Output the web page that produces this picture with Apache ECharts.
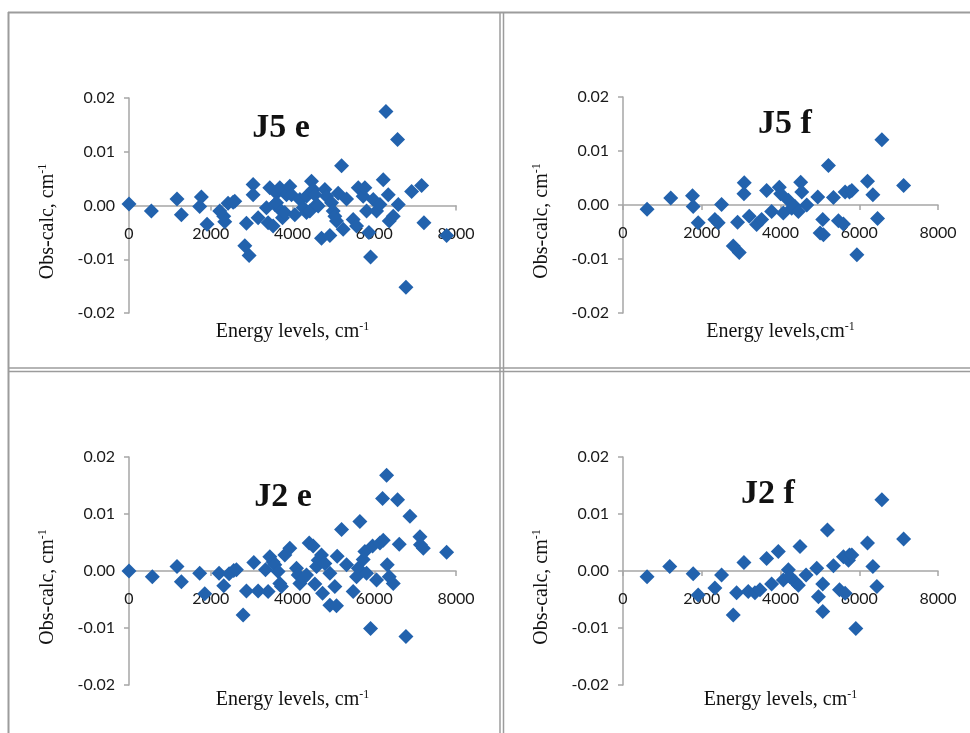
<!DOCTYPE html>
<html>
<head>
<meta charset="utf-8">
<script src="https://cdn.jsdelivr.net/npm/echarts@6/dist/echarts.min.js"></script>
<style>
  html, body { margin: 0; padding: 0; background: #fff; }
  #chart { width: 970px; height: 733px; }
</style>
</head>
<body>
<div id="chart"></div>
<script>
// panel titles
const titles = ['J5 e', 'J5 f', 'J2 e', 'J2 f']
const xNames = ['Energy levels, ', 'Energy levels,', 'Energy levels, ', 'Energy levels, ']

// J5 e
const energyJ5e = [0, 547, 1175, 1282, 1730, 1771, 1910, 2220, 2318, 2343, 2424, 2547, 2588, 2833, 2873, 2939, 3037, 3037, 3159, 3363,
  3404, 3445, 3526, 3567, 3608, 3608, 3690, 3730, 3755, 3812, 3853, 3935, 3975, 4057, 4180, 4261, 4343, 4343, 4424, 4465,
  4506, 4547, 4588, 4628, 4710, 4792, 4833, 4914, 4955, 4996, 5036, 5077, 5118, 5200, 5240, 5322, 5485, 5567, 5608, 5730,
  5771, 5812, 5870, 5910, 5975, 6057, 6139, 6220, 6286, 6343, 6367, 6465, 6571, 6588, 6775, 6914, 7159, 7216, 7771]
const residJ5e = [0.0003, -0.001, 0.0012, -0.0017, -0.0002, 0.0016, -0.0035, -0.001, -0.002, -0.003, 0.0004, 0.0006, 0.0008, -0.0075, -0.0033, -0.0093, 0.0039, 0.002, -0.0023, -0.0004,
  -0.0032, 0.0033, -0.0038, 0.0002, 0.0023, 0.0005, 0.0033, -0.001, -0.0023, -0.0013, 0.002, 0.0036, 0.002, -0.0017, 0.0011, -0.0004, 0.0017, -0.0013, -0.001, 0.0045,
  0.003, 0.002, 0.0002, -0.0001, -0.0061, 0.003, 0.0017, -0.0056, 0.0005, -0.001, -0.002, -0.0029, 0.0023, 0.0074, -0.0044, 0.0012, -0.0026, -0.0038, 0.0033, 0.0017,
  0.0033, -0.001, -0.005, -0.0096, 0.0011, -0.001, 0.0002, 0.0048, 0.0175, 0.002, -0.0029, -0.002, 0.0123, 0.0002, -0.0152, 0.0026, 0.0037, -0.0032, -0.0056]

// J5 f
const energyJ5f = [611, 1213, 1765, 1782, 1909, 2333, 2418, 2503, 2800, 2910, 2952, 3071, 3080, 3207, 3394, 3521, 3648, 3775, 3970, 4004,
  4072, 4200, 4284, 4369, 4454, 4513, 4539, 4666, 4946, 5006, 5073, 5090, 5218, 5345, 5472, 5599, 5642, 5752, 5811, 5939,
  6210, 6346, 6465, 6575, 7127]
const residJ5f = [-0.0008, 0.0013, 0.0017, -0.0003, -0.0033, -0.0027, -0.0033, 0.0001, -0.0076, -0.0032, -0.0088, 0.0021, 0.0041, -0.0021, -0.0036, -0.0027, 0.0027, -0.0012, 0.0033, 0.0021,
  -0.0015, 0.0009, -0.0006, -0.0003, -0.0012, 0.0042, 0.0024, 0.0, 0.0015, -0.0052, -0.0027, -0.0055, 0.0073, 0.0014, -0.0029, -0.0035, 0.0024, 0.0024, 0.0027, -0.0092,
  0.0044, 0.0019, -0.0025, 0.0121, 0.0036]

// J2 e
const energyJ2e = [0, 571, 1175, 1282, 1730, 1853, 2204, 2318, 2449, 2563, 2628, 2792, 2873, 3053, 3159, 3339, 3404, 3445, 3526, 3567,
  3649, 3690, 3730, 3812, 3935, 4098, 4139, 4180, 4261, 4343, 4408, 4506, 4547, 4588, 4628, 4710, 4735, 4792, 4914, 4914,
  5036, 5077, 5094, 5200, 5322, 5485, 5567, 5608, 5649, 5730, 5771, 5812, 5910, 5959, 6057, 6139, 6204, 6220, 6302, 6318,
  6367, 6465, 6571, 6612, 6775, 6873, 7118, 7130, 7200, 7771]
const residJ2e = [0.0, -0.001, 0.0008, -0.0019, -0.0004, -0.004, -0.0004, -0.0026, -0.0005, 0.0001, 0.0002, -0.0077, -0.0035, 0.0015, -0.0035, 0.0002, -0.0036, 0.0025, 0.0016, 0.0011,
  -0.0001, -0.0022, -0.0027, 0.0028, 0.004, 0.0005, -0.0007, -0.0022, -0.0013, -0.0007, 0.0049, 0.0044, -0.0023, 0.0008, 0.0019, 0.0028, -0.0039, 0.0013, -0.0004, -0.006,
  -0.0027, -0.0061, 0.0026, 0.0073, 0.0011, -0.0036, -0.001, 0.0005, 0.0087, 0.002, 0.0034, -0.0004, -0.0101, 0.0044, -0.0016, 0.0049, 0.0127, 0.0054, 0.0168, 0.0011,
  -0.001, -0.0022, 0.0125, 0.0047, -0.0115, 0.0096, 0.006, 0.0046, 0.004, 0.0033]

// J2 f
const energyJ2f = [611, 1188, 1782, 1909, 2333, 2503, 2800, 2885, 3071, 3181, 3351, 3478, 3648, 3775, 3945, 4072, 4200, 4242, 4369, 4454,
  4496, 4649, 4921, 4963, 5073, 5073, 5192, 5345, 5498, 5599, 5642, 5727, 5752, 5811, 5913, 6210, 6346, 6448, 6575, 7127]
const residJ2f = [-0.001, 0.0008, -0.0005, -0.0042, -0.003, -0.0007, -0.0077, -0.0038, 0.0015, -0.0036, -0.0038, -0.0033, 0.0022, -0.0023, 0.0034, -0.0016, 0.0002, -0.001, -0.0019, -0.0025,
  0.0043, -0.0007, 0.0005, -0.0045, -0.0023, -0.0071, 0.0072, 0.0009, -0.0033, 0.0025, -0.0039, 0.0019, 0.0028, 0.0028, -0.0101, 0.0049, 0.0008, -0.0027, 0.0125, 0.0056]

const panelData = [
  [energyJ5e, residJ5e],
  [energyJ5f, residJ5f],
  [energyJ2e, residJ2e],
  [energyJ2f, residJ2f]
]

// plot area of each panel: left, top, width, height
const grids = [
  { left: 129, top: 98, width: 327, height: 215 },
  { left: 623, top: 97, width: 315, height: 216 },
  { left: 129, top: 457, width: 327, height: 228 },
  { left: 623, top: 457, width: 315, height: 228 }
]
const titlePos = [[281, 128], [785, 124], [283, 497], [768, 494]]

const axisGray = '#a6a6a6'
const dotBlue = '#2262ad'
const serif = '"Liberation Serif", "DejaVu Serif", serif'
const sans = 'Lato, "Open Sans", sans-serif'

const chart = echarts.init(document.getElementById('chart'))

const supRich = {
  base: { fontFamily: serif, fontSize: 20, color: '#111', lineHeight: 22 },
  sup: { fontFamily: serif, fontSize: 12, color: '#111', verticalAlign: 'top', lineHeight: 22 }
}

// x labels sit under the zero line, not under the plot bottom
const xAxes = grids.map((g, i) => ({
  gridIndex: i,
  type: 'value',
  min: 0,
  max: 8000,
  interval: 2000,
  name: '{base|' + xNames[i] + 'cm}{sup|-1}',
  nameLocation: 'middle',
  nameGap: i < 2 ? 8 : 4,
  nameTextStyle: { rich: supRich },
  axisLine: { onZero: true, lineStyle: { color: axisGray, width: 1.5 } },
  axisTick: { show: true, length: 5, lineStyle: { color: axisGray, width: 1.5 } },
  axisLabel: {
    margin: -(g.height / 2) + 20, fontFamily: sans, fontSize: 16, color: '#1a1a1a',
    formatter: v => String(v)
  },
  splitLine: { show: false }
}))

const yAxes = grids.map((g, i) => ({
  gridIndex: i,
  type: 'value',
  min: -0.02,
  max: 0.02,
  interval: 0.01,
  name: '{base|Obs-calc, cm}{sup|-1}',
  nameLocation: 'middle',
  nameRotate: 90,
  nameGap: 70,
  nameTextStyle: { rich: supRich, padding: [0, 32, 0, 0] },
  axisLine: { show: true, onZero: false, lineStyle: { color: axisGray, width: 1.5 } },
  axisTick: { show: true, length: 5, lineStyle: { color: axisGray, width: 1.5 } },
  axisLabel: {
    margin: 14, fontFamily: sans, fontSize: 16, color: '#1a1a1a',
    formatter: v => v.toFixed(2)
  },
  splitLine: { show: false }
}))

const series = panelData.map((d, i) => ({
  type: 'scatter',
  xAxisIndex: i,
  yAxisIndex: i,
  symbol: 'diamond',
  symbolSize: 15,
  itemStyle: { color: dotBlue, opacity: 1 },
  data: d[0].map((x, k) => [x, d[1][k]])
}))

const frameLine = (x1, y1, x2, y2, w) => ({
  type: 'line',
  silent: true,
  shape: { x1, y1, x2, y2 },
  style: { stroke: '#9c9c9c', lineWidth: w }
})

const graphics = [
  frameLine(8.5, 12, 8.5, 733, 2),
  frameLine(8, 12.5, 970, 12.5, 2),
  frameLine(500, 12, 500, 733, 1.5),
  frameLine(503.5, 12, 503.5, 733, 1.5),
  frameLine(8, 368, 970, 368, 1.5),
  frameLine(8, 371.5, 970, 371.5, 1.5)
]
titles.forEach((t, i) => {
  graphics.push({
    type: 'text',
    x: titlePos[i][0],
    y: titlePos[i][1],
    style: {
      text: t,
      align: 'center',
      verticalAlign: 'middle',
      fontFamily: serif,
      fontWeight: 'bold',
      fontSize: 34,
      fill: '#111'
    }
  })
})

chart.setOption({
  animation: false,
  backgroundColor: '#fff',
  grid: grids.map(g => Object.assign({ containLabel: false }, g)),
  xAxis: xAxes,
  yAxis: yAxes,
  series,
  graphic: graphics
})
</script>
</body>
</html>
